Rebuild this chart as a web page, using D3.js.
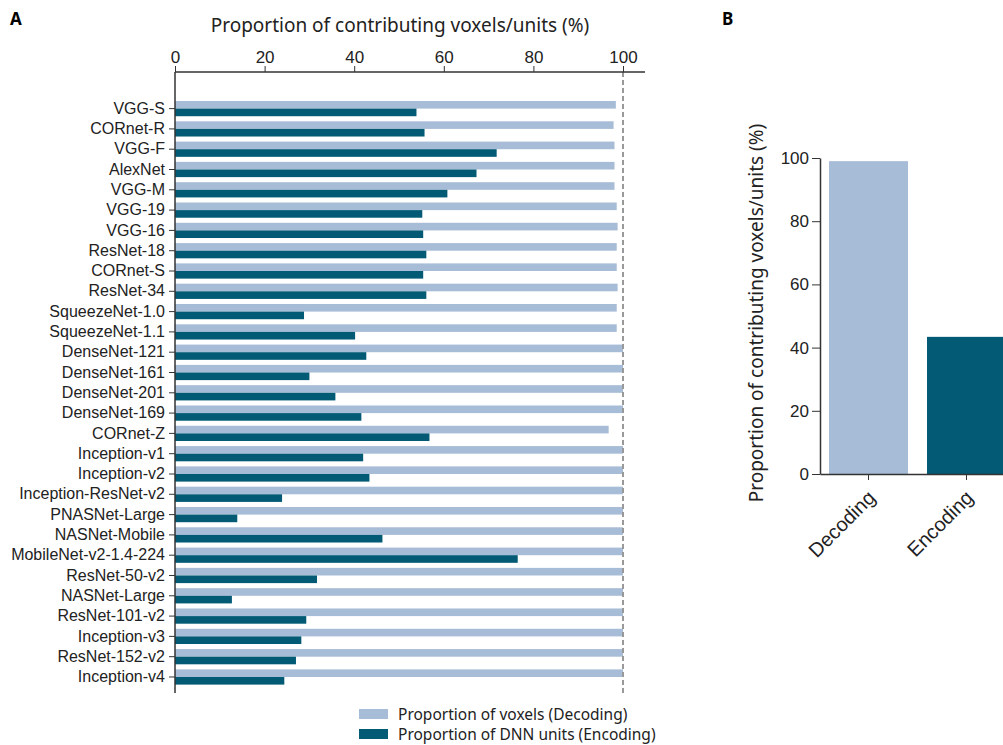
<!DOCTYPE html>
<html>
<head>
<meta charset="utf-8">
<script src="https://cdnjs.cloudflare.com/ajax/libs/d3/7.8.5/d3.min.js"></script>
<style>
    body { margin: 0; background: #fff; }
    svg { font-family: "Noto Sans", Lato, sans-serif; }
    .axis text { fill: #222; }
    .axis path, .axis line { stroke: #333; }
</style>
</head>
<body>
<div id="chart"></div>
<script>
var models = ["VGG-S", "CORnet-R", "VGG-F", "AlexNet", "VGG-M", "VGG-19", "VGG-16",
    "ResNet-18", "CORnet-S", "ResNet-34", "SqueezeNet-1.0", "SqueezeNet-1.1",
    "DenseNet-121", "DenseNet-161", "DenseNet-201", "DenseNet-169", "CORnet-Z",
    "Inception-v1", "Inception-v2", "Inception-ResNet-v2", "PNASNet-Large",
    "NASNet-Mobile", "MobileNet-v2-1.4-224", "ResNet-50-v2", "NASNet-Large",
    "ResNet-101-v2", "Inception-v3", "ResNet-152-v2", "Inception-v4"];

// proportion of voxels (decoding), %
var decoding = [98.4, 97.9, 98.1, 98.1, 98.1, 98.6, 98.8, 98.6, 98.6, 98.8, 98.6, 98.6,
    100, 100, 100, 100, 96.8, 100, 100, 100, 100, 100, 100, 100, 100, 100, 100, 100, 100];

// proportion of DNN units (encoding), %
var encoding = [53.9, 55.7, 71.8, 67.3, 60.8, 55.2, 55.4, 56.1, 55.4, 56.1, 28.8, 40.2,
    42.7, 30.0, 35.8, 41.6, 56.8, 42.0, 43.4, 23.9, 13.9, 46.3, 76.5, 31.7, 12.7,
    29.3, 28.2, 27.0, 24.4];

var xTicks = [0, 20, 40, 60, 80, 100];

// panel B summary
var summaryNames = ["Decoding", "Encoding"];
var summaryValues = [99.0, 43.4];
var summaryTicks = [0, 20, 40, 60, 80, 100];

var legendLabels = ["Proportion of voxels (Decoding)", "Proportion of DNN units (Encoding)"];

var lightColor = "#a7bcd6",
    darkColor = "#025a75";

var svg = d3.select("#chart").append("svg")
    .attr("width", 1003)
    .attr("height", 745);

drawPanelA();
drawPanelB();
drawLegend();

function drawPanelA() {
    var x = d3.scaleLinear()
        .domain([0, 100])
        .range([175, 623]);

    var y = d3.scaleBand()
        .domain(models)
        .range([101, 684.6])
        .paddingInner(0.25)
        .paddingOuter(0);

    var sub = d3.scaleBand()
        .domain(["decoding", "encoding"])
        .range([0, y.bandwidth()]);

    var rows = models.map(function (m, i) {
        return {name: m, decoding: decoding[i], encoding: encoding[i]};
    });

    svg.append("text")
        .attr("x", 10)
        .attr("y", 25)
        .style("font-weight", "bold")
        .style("font-size", "17px")
        .text("A");

    svg.append("text")
        .attr("x", 400)
        .attr("y", 32)
        .attr("text-anchor", "middle")
        .style("font-size", "19px")
        .style("fill", "#222")
        .text("Proportion of contributing voxels/units (%)");

    svg.selectAll(".dec")
        .data(rows)
        .enter().append("rect")
        .attr("class", "dec")
        .attr("x", x(0))
        .attr("y", function (d) { return y(d.name) + sub("decoding"); })
        .attr("width", function (d) { return x(d.decoding) - x(0); })
        .attr("height", sub.bandwidth())
        .attr("fill", lightColor);

    svg.selectAll(".enc")
        .data(rows)
        .enter().append("rect")
        .attr("class", "enc")
        .attr("x", x(0))
        .attr("y", function (d) { return y(d.name) + sub("encoding"); })
        .attr("width", function (d) { return x(d.encoding) - x(0); })
        .attr("height", sub.bandwidth())
        .attr("fill", darkColor);

    // dashed reference line at 100 %
    svg.append("line")
        .attr("x1", x(100)).attr("x2", x(100))
        .attr("y1", 72).attr("y2", 693)
        .attr("stroke", "#999")
        .attr("stroke-width", 2)
        .attr("stroke-dasharray", "5,3");

    var top = svg.append("g")
        .attr("class", "axis")
        .attr("transform", "translate(0,72)")
        .call(d3.axisTop(x).tickValues(xTicks).tickSize(6).tickSizeOuter(0));
    top.select(".domain").attr("d", "M" + x(0) + ",0H645").attr("stroke-width", 1.5);
    top.selectAll("text").style("font-size", "17px");

    var left = svg.append("g")
        .attr("class", "axis")
        .attr("transform", "translate(" + x(0) + ",0)")
        .call(d3.axisLeft(y).tickSize(6).tickSizeOuter(0));
    left.select(".domain").attr("d", "M0,72V693").attr("stroke-width", 1.5);
    left.selectAll("text").style("font-size", "16px").attr("x", -10);
}

function drawPanelB() {
    var x = d3.scaleBand()
        .domain(summaryNames)
        .range([820, 1015])
        .paddingInner(0.194)
        .paddingOuter(0.092);

    var y = d3.scaleLinear()
        .domain([0, 100])
        .range([474, 158]);

    svg.append("text")
        .attr("x", 722)
        .attr("y", 25)
        .style("font-weight", "bold")
        .style("font-size", "17px")
        .text("B");

    svg.selectAll(".sum")
        .data(summaryNames)
        .enter().append("rect")
        .attr("class", "sum")
        .attr("x", function (d) { return x(d); })
        .attr("y", function (d, i) { return y(summaryValues[i]); })
        .attr("width", x.bandwidth())
        .attr("height", function (d, i) { return y(0) - y(summaryValues[i]); })
        .attr("fill", function (d, i) { return i === 0 ? lightColor : darkColor; });

    var left = svg.append("g")
        .attr("class", "axis")
        .attr("transform", "translate(820,0)")
        .call(d3.axisLeft(y).tickValues(summaryTicks).tickSize(8).tickSizeOuter(0));
    left.select(".domain").attr("stroke-width", 1.5);
    left.selectAll("text").style("font-size", "17px");

    var bottom = svg.append("g")
        .attr("class", "axis")
        .attr("transform", "translate(0,474)")
        .call(d3.axisBottom(x).tickSize(6).tickSizeOuter(0));
    bottom.select(".domain").attr("stroke-width", 1.5);
    bottom.selectAll("text")
        .style("font-size", "20px")
        .attr("text-anchor", "end")
        .attr("x", 0).attr("y", 0).attr("dy", 0)
        .attr("transform", "translate(8,25) rotate(-45)");

    svg.append("text")
        .attr("transform", "translate(763,313) rotate(-90)")
        .attr("text-anchor", "middle")
        .style("font-size", "19px")
        .style("fill", "#222")
        .text("Proportion of contributing voxels/units (%)");
}

function drawLegend() {
    var colors = [lightColor, darkColor];
    var legend = svg.selectAll(".legend")
        .data(legendLabels)
        .enter().append("g")
        .attr("class", "legend")
        .attr("transform", function (d, i) { return "translate(359," + (709 + i * 20) + ")"; });

    legend.append("rect")
        .attr("width", 29)
        .attr("height", 10)
        .attr("fill", function (d, i) { return colors[i]; });

    legend.append("text")
        .attr("x", 39)
        .attr("y", 11)
        .style("font-size", "15.5px")
        .style("fill", "#222")
        .text(function (d) { return d; });
}
</script>
</body>
</html>
